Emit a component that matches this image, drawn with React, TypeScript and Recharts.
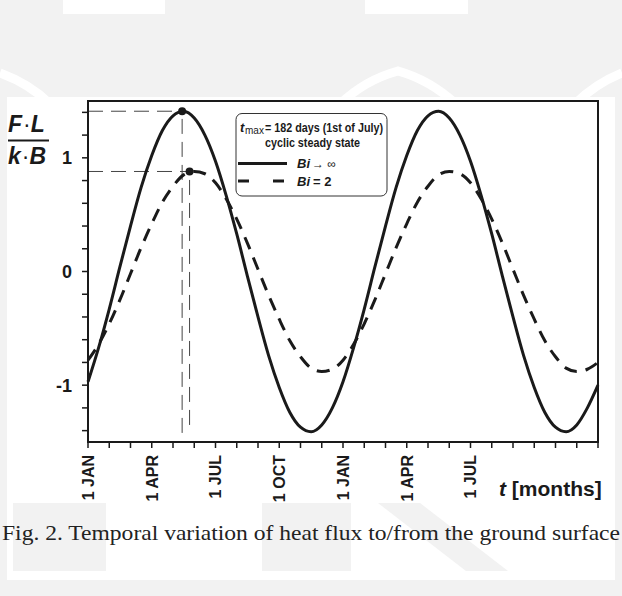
import React from 'react';
import {
  LineChart,
  Line,
  XAxis,
  YAxis,
  ReferenceLine,
  ReferenceDot,
  ReferenceArea,
} from 'recharts';

// time in months from 1 JAN
const months = [
  0, 0.5, 1, 1.5, 2, 2.5, 3, 3.5, 4, 4.5, 5, 5.5, 6, 6.5, 7, 7.5, 8, 8.5, 9, 9.5, 10, 10.5, 11, 11.5,
  12, 12.5, 13, 13.5, 14, 14.5, 15, 15.5, 16, 16.5, 17, 17.5, 18, 18.5, 19, 19.5, 20, 20.5, 21, 21.5,
  22, 22.5, 23, 23.5, 24,
];

// F·L/(k·B), Bi -> infinity
const fluxBiInf = [
  -0.97, -0.67, -0.33, 0.04, 0.4, 0.74, 1.02, 1.24, 1.37, 1.41, 1.35, 1.2, 0.97, 0.67, 0.33, -0.04,
  -0.4, -0.74, -1.02, -1.24, -1.37, -1.41, -1.35, -1.2, -0.97, -0.67, -0.33, 0.04, 0.4, 0.74, 1.02,
  1.24, 1.37, 1.41, 1.35, 1.2, 0.97, 0.67, 0.33, -0.04, -0.4, -0.74, -1.02, -1.24, -1.37, -1.41,
  -1.35, -1.2, -1.0,
];

// F·L/(k·B), Bi = 2
const fluxBi2 = [
  -0.78, -0.64, -0.46, -0.25, -0.02, 0.21, 0.42, 0.61, 0.75, 0.85, 0.88, 0.86, 0.78, 0.64, 0.46,
  0.25, 0.02, -0.21, -0.42, -0.61, -0.75, -0.85, -0.88, -0.86, -0.78, -0.64, -0.46, -0.25, -0.02,
  0.21, 0.42, 0.61, 0.75, 0.85, 0.88, 0.86, 0.78, 0.64, 0.46, 0.25, 0.02, -0.21, -0.42, -0.61, -0.75,
  -0.85, -0.88, -0.86, -0.8,
];

const monthTicks = [0, 1, 2, 3, 4, 5, 6, 7, 8, 9, 10, 11, 12, 13, 14, 15, 16, 17, 18, 19, 20, 21, 22, 23, 24];
const monthLabels: Record<number, string> = {
  0: '1 JAN',
  3: '1 APR',
  6: '1 JUL',
  9: '1 OCT',
  12: '1 JAN',
  15: '1 APR',
  18: '1 JUL',
};
const yTicks = [-1.4, -1.2, -1, -0.8, -0.6, -0.4, -0.2, 0, 0.2, 0.4, 0.6, 0.8, 1, 1.2, 1.4];

// marked maxima
const peakInf = { t: 4.43, v: 1.41 };
const peakBi2 = { t: 4.78, v: 0.88 };

const rows = months.map((t, i) => ({ t, inf: fluxBiInf[i], bi2: fluxBi2[i] }));

const SANS = '"Liberation Sans", Arial, Helvetica, sans-serif';
const INK = '#1a1a1a';

const XTick = (props: any) => {
  const { x, y, payload } = props;
  const label = monthLabels[payload.value];
  if (!label) return null;
  return (
    <text
      transform={`translate(${x},${y + 5}) rotate(-90)`}
      textAnchor="end"
      dy="0.36em"
      fontSize={16}
      fontWeight="bold"
      fontFamily={SANS}
      fill={INK}
    >
      {label}
    </text>
  );
};

const YTick = (props: any) => {
  const { x, y, payload } = props;
  const v = payload.value;
  if (Math.abs(v - Math.round(v)) > 1e-6) return null;
  return (
    <text x={x - 8} y={y} dy="0.36em" textAnchor="end" fontSize={18} fontWeight="bold" fontFamily={SANS} fill={INK}>
      {Math.round(v)}
    </text>
  );
};

const Background = () => (
  <svg width={622} height={596} style={{ position: 'absolute', left: 0, top: 0 }}>
    <rect x={0} y={0} width={622} height={596} fill="#f2f2f2" />
    <rect x={63} y={0} width={102} height={14} fill="#fff" />
    <rect x={365} y={0} width={103} height={14} fill="#fff" />
    <path d="M0,73 Q30,84 50,104" stroke="#fff" strokeWidth={9} fill="none" />
    <path d="M340,104 Q365,80 398,71 Q430,80 456,104" stroke="#fff" strokeWidth={9} fill="none" />
    <path d="M622,73 Q595,84 575,104" stroke="#fff" strokeWidth={9} fill="none" />
    <rect x={7} y={97} width={608} height={483} fill="#fff" />
    <rect x={13} y={503} width={93} height={68} fill="#f2f2f2" />
    <rect x={262} y={503} width={89} height={68} fill="#f2f2f2" />
    <polygon points="378,503 420,503 508,571 466,571" fill="#f2f2f2" />
  </svg>
);

const legendText = { fontWeight: 'bold', fontFamily: SANS, fill: INK } as const;

const Overlay = () => (
  <svg width={622} height={596} style={{ position: 'absolute', left: 0, top: 0, pointerEvents: 'none' }}>
    {/* y-axis title as a fraction */}
    <text x={8} y={131.5} fontSize={23} fontWeight="bold" fontStyle="italic" fontFamily={SANS} fill={INK}>
      F<tspan fontWeight="normal" fontStyle="normal" dx={1}>·</tspan>L
    </text>
    <line x1={8} y1={140.5} x2={49} y2={140.5} stroke={INK} strokeWidth={2} />
    <text x={8} y={163.5} fontSize={23} fontWeight="bold" fontStyle="italic" fontFamily={SANS} fill={INK}>
      k<tspan fontWeight="normal" fontStyle="normal" dx={1}>·</tspan>B
    </text>

    {/* legend */}
    <rect x={236} y={113.5} width={151} height={82.5} rx={6} fill="#fff" stroke="#333" strokeWidth={1} />
    <text x={240} y={131.5} fontSize={13} fontStyle="italic" {...legendText}>t</text>
    <text x={245} y={133.5} fontSize={10} fontFamily={SANS} fill={INK}>max</text>
    <text x={265} y={131.5} fontSize={13} textLength={118} lengthAdjust="spacingAndGlyphs" {...legendText}>
      = 182 days (1st of July)
    </text>
    <text x={265} y={146.5} fontSize={13} textLength={95} lengthAdjust="spacingAndGlyphs" {...legendText}>
      cyclic steady state
    </text>
    <line x1={238} y1={163.5} x2={287} y2={163.5} stroke={INK} strokeWidth={3} />
    <text x={297} y={168} fontSize={13} fontStyle="italic" {...legendText}>Bi</text>
    <text x={312} y={168} fontSize={12} fontFamily={SANS} fill={INK}>→ ∞</text>
    <line x1={238} y1={181} x2={287} y2={181} stroke={INK} strokeWidth={3} strokeDasharray="11 24" />
    <text x={297} y={186} fontSize={13} fontStyle="italic" {...legendText}>Bi</text>
    <text x={313} y={186} fontSize={13} {...legendText}>= 2</text>

    {/* x-axis title */}
    <text x={499} y={496} fontSize={21} fontWeight="bold" fontFamily={SANS} fill={INK}>
      <tspan fontStyle="italic">t</tspan> [months]
    </text>

    {/* caption */}
    <text
      x={311}
      y={540}
      textAnchor="middle"
      fontSize={21}
      fontFamily='"Liberation Serif", "Times New Roman", serif'
      fill="#222"
      textLength={618}
      lengthAdjust="spacingAndGlyphs"
    >
      Fig. 2. Temporal variation of heat flux to/from the ground surface
    </text>
  </svg>
);

const guideStyle = { stroke: '#444', strokeWidth: 1, strokeDasharray: '15 8' };

export default function App() {
  return (
    <div style={{ position: 'absolute', left: 0, top: 0, width: 622, height: 596, overflow: 'hidden' }}>
      <Background />
      <div style={{ position: 'absolute', left: 0, top: 0 }}>
        <LineChart width={622} height={596} data={rows} margin={{ top: 101, right: 24, bottom: 94, left: 48 }}>
          <XAxis
            dataKey="t"
            type="number"
            domain={[0, 24]}
            ticks={monthTicks}
            interval={0}
            tick={<XTick />}
            tickSize={6}
            height={60}
            axisLine={{ stroke: INK, strokeWidth: 2 }}
            tickLine={{ stroke: INK, strokeWidth: 1.5 }}
          />
          <YAxis
            type="number"
            domain={[-1.5, 1.5]}
            ticks={yTicks}
            interval={0}
            tick={<YTick />}
            tickSize={6}
            width={40}
            allowDataOverflow
            axisLine={{ stroke: INK, strokeWidth: 2 }}
            tickLine={{ stroke: INK, strokeWidth: 1.5 }}
          />
          <ReferenceArea x1={0} x2={24} y1={-1.5} y2={1.5} fill="none" stroke={INK} strokeWidth={2} />
          <ReferenceLine segment={[{ x: 0, y: peakInf.v }, { x: peakInf.t, y: peakInf.v }]} {...guideStyle} />
          <ReferenceLine segment={[{ x: 0, y: peakBi2.v }, { x: peakBi2.t, y: peakBi2.v }]} {...guideStyle} />
          <ReferenceLine segment={[{ x: peakInf.t, y: -1.42 }, { x: peakInf.t, y: peakInf.v }]} {...guideStyle} />
          <ReferenceLine segment={[{ x: peakBi2.t, y: -1.35 }, { x: peakBi2.t, y: peakBi2.v }]} {...guideStyle} />
          <Line
            type="monotone"
            dataKey="inf"
            stroke={INK}
            strokeWidth={3}
            dot={false}
            activeDot={false}
            isAnimationActive={false}
          />
          <Line
            type="monotone"
            dataKey="bi2"
            stroke={INK}
            strokeWidth={3}
            strokeDasharray="13 9"
            dot={false}
            activeDot={false}
            isAnimationActive={false}
          />
          <ReferenceDot x={peakInf.t} y={peakInf.v} r={4} fill={INK} stroke="none" />
          <ReferenceDot x={peakBi2.t} y={peakBi2.v} r={4} fill={INK} stroke="none" />
        </LineChart>
      </div>
      <Overlay />
    </div>
  );
}
